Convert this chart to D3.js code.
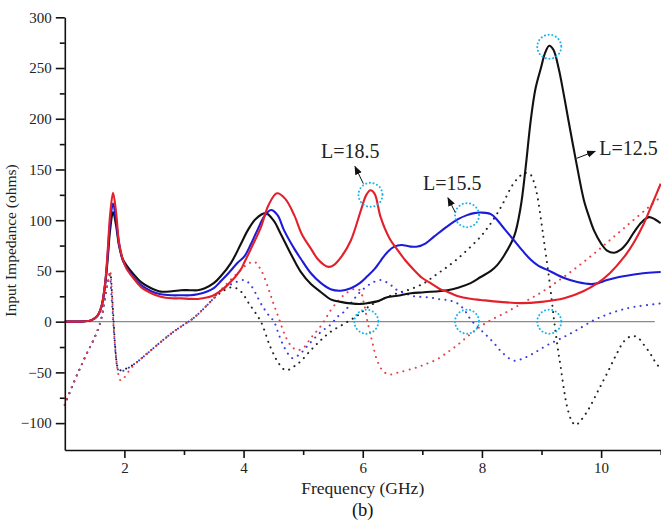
<!DOCTYPE html>
<html>
<head>
<meta charset="utf-8">
<script src="https://cdn.jsdelivr.net/npm/d3@7"></script>
<style>
  body { margin: 0; background: #fff; }
  svg { display: block; }
  .axis text { font-family: "Liberation Serif", "Times New Roman", serif; font-size: 15px; fill: #222; }
  .axis path, .axis line { stroke: #111; stroke-width: 1.6; }
</style>
</head>
<body>
<svg id="chart" width="661" height="522"></svg>
<script>
// Real part (solid) and imaginary part (dotted) of input impedance, [GHz, ohms]
const realL125 = [[1,0],[1.3,0.3],[1.45,1.5],[1.55,6],[1.62,16],[1.68,38],[1.72,62],[1.76,90],[1.81,108],[1.86,95],[1.91,75],[1.97,62],[2.03,56],[2.15,47],[2.28,39],[2.45,33],[2.61,29.6],[2.8,30],[2.95,31],[3.1,31],[3.23,31],[3.35,33],[3.5,38],[3.62,45],[3.79,58],[3.95,76],[4.07,90],[4.2,101],[4.37,107],[4.5,100],[4.62,87],[4.8,66],[4.96,49],[5.13,37],[5.3,29],[5.46,22],[5.63,19.5],[5.8,18],[5.97,17.5],[6.1,18.5],[6.24,20],[6.41,24],[6.58,25.5],[6.81,28],[7.03,29],[7.42,31],[7.6,33.5],[7.81,38],[7.98,44],[8.15,50],[8.26,56],[8.37,65],[8.54,84],[8.65,113],[8.73,150],[8.82,199],[8.9,230],[8.99,250],[9.06,265],[9.13,272],[9.2,268],[9.29,249],[9.37,225],[9.45,199],[9.58,158],[9.71,120],[9.8,103],[9.88,90],[10.0,77],[10.1,70],[10.22,68],[10.33,71],[10.44,78],[10.55,88],[10.68,98],[10.8,103],[10.9,101],[11,97]];
const realL155 = [[1,0],[1.3,0.3],[1.45,1.5],[1.55,6],[1.62,16],[1.68,39],[1.72,66],[1.76,98],[1.81,116.5],[1.86,100],[1.91,77],[1.97,61],[2.03,54],[2.15,44],[2.28,36],[2.45,30],[2.61,27],[2.8,26],[2.95,26],[3.1,26],[3.23,27],[3.4,30],[3.5,33],[3.62,40],[3.75,48],[3.9,58],[4.01,64],[4.12,76],[4.23,90],[4.35,104],[4.46,110],[4.57,105],[4.68,90],[4.85,72],[4.96,62],[5.13,47.7],[5.3,38],[5.46,32],[5.63,30.5],[5.8,33],[5.95,38],[6.08,45],[6.2,52],[6.3,60],[6.42,69],[6.53,74],[6.65,75.5],[6.8,74],[6.92,74],[7.05,77],[7.2,84],[7.42,94],[7.6,101],[7.75,105],[7.87,107],[8.0,107.5],[8.15,106],[8.26,100],[8.37,92],[8.54,80],[8.68,70],[8.82,61],[8.95,55],[9.1,51],[9.25,46.5],[9.38,43],[9.6,39],[9.83,37],[9.95,38],[10.1,41],[10.3,44],[10.5,46],[10.75,48],[11,49]];
const realL185 = [[1,0],[1.3,0.3],[1.45,1.5],[1.55,6],[1.62,16],[1.68,40],[1.72,70],[1.76,105],[1.81,127],[1.86,108],[1.91,78],[1.97,62],[2.03,53],[2.15,43],[2.28,34],[2.45,28],[2.61,24.5],[2.8,23],[2.95,23],[3.1,22.5],[3.23,22.4],[3.4,24],[3.5,26],[3.73,36],[3.95,51],[4.01,58],[4.15,75],[4.29,93],[4.42,115],[4.56,126.5],[4.7,121],[4.85,105],[4.98,86],[5.13,72],[5.24,62],[5.35,56],[5.43,54],[5.52,56],[5.63,63],[5.8,80],[5.97,110],[6.06,125],[6.13,129.5],[6.2,126],[6.3,103],[6.45,82],[6.58,71],[6.72,60],[6.86,51],[7.0,43],[7.14,38],[7.3,32],[7.42,29.5],[7.6,25],[7.81,22.5],[7.98,21.4],[8.3,19.5],[8.65,18.3],[9.0,19.5],[9.38,23],[9.7,30],[9.94,38],[10.15,48],[10.39,64],[10.55,78],[10.72,97],[10.85,115],[11,136]];

const imagL125 = [[1,-82],[1.15,-60],[1.27,-44],[1.38,-30],[1.49,-17],[1.6,0],[1.66,18],[1.72,38],[1.76,48],[1.8,20],[1.84,-20],[1.87,-40],[1.9,-47],[1.95,-48],[2.0,-47],[2.11,-44],[2.25,-38],[2.39,-31],[2.61,-20],[2.8,-11],[2.92,-6],[3.17,4],[3.45,20],[3.6,28],[3.81,34],[3.95,30],[4.1,17],[4.29,0],[4.45,-25],[4.6,-42],[4.71,-48],[4.85,-44],[4.96,-39],[5.13,-28],[5.3,-18],[5.46,-10],[5.69,-2],[5.91,6],[6.08,14],[6.19,18],[6.4,24],[6.58,28],[6.8,32],[7.03,38],[7.2,45],[7.37,52],[7.55,60],[7.76,71],[7.98,84],[8.15,97],[8.32,113],[8.54,137],[8.7,146],[8.8,146],[8.87,138],[8.93,124],[9.0,97],[9.04,80],[9.1,55],[9.15,32],[9.21,2],[9.27,-25],[9.32,-44],[9.38,-68],[9.43,-84],[9.5,-97],[9.57,-102],[9.65,-98],[9.75,-90],[9.83,-82],[9.95,-68],[10.1,-51],[10.25,-33],[10.39,-19],[10.52,-14],[10.62,-16],[10.72,-23],[10.82,-31],[10.89,-38],[11,-47]];
const imagL155 = [[1,-82],[1.15,-60],[1.27,-44],[1.38,-30],[1.49,-17],[1.6,0],[1.66,18],[1.72,38],[1.75,46],[1.79,20],[1.83,-15],[1.86,-36],[1.89,-47],[1.93,-49],[2.0,-48],[2.11,-44],[2.25,-38],[2.39,-31],[2.61,-20],[2.8,-11],[2.92,-6],[3.17,4],[3.45,20],[3.6,30],[3.8,37],[4.01,41],[4.12,36],[4.29,18],[4.4,8],[4.51,0],[4.6,-14],[4.7,-27],[4.82,-36],[4.96,-31],[5.1,-22],[5.3,-10],[5.46,-3],[5.58,5],[5.69,10],[5.85,22],[5.97,30],[6.15,38],[6.3,41],[6.45,37],[6.58,31],[6.75,27],[6.86,25],[7.1,24],[7.3,22],[7.45,21],[7.59,18],[7.7,12],[7.8,3],[7.92,-5],[8.05,-12],[8.2,-21],[8.35,-31],[8.54,-38.5],[8.7,-36],[8.87,-31],[9.1,-23],[9.38,-15],[9.6,-8],[9.88,1.5],[10.1,7],[10.33,11.5],[10.6,15],[10.94,17.5],[11,18]];
const imagL185 = [[1,-82],[1.04,-75],[1.15,-60],[1.27,-44],[1.38,-30],[1.49,-17],[1.6,0],[1.66,18],[1.72,38],[1.76,50],[1.79,30],[1.82,-5],[1.86,-34],[1.9,-52],[1.94,-58],[2.0,-55],[2.11,-46],[2.25,-38],[2.39,-31],[2.61,-20],[2.8,-11],[2.92,-6],[3.17,4],[3.45,20],[3.6,30],[3.73,38],[3.9,48],[4.05,56],[4.18,59],[4.3,50],[4.42,32],[4.5,18],[4.6,2],[4.7,-14],[4.8,-24],[4.9,-28],[5.0,-26],[5.13,-16],[5.3,-4],[5.46,11],[5.58,20],[5.7,27],[5.85,32],[5.95,31],[6.02,18],[6.08,0],[6.16,-20],[6.24,-38],[6.33,-48],[6.44,-52],[6.6,-50],[6.86,-46],[7.05,-42],[7.25,-37],[7.45,-29],[7.59,-23],[7.75,-15],[7.9,-8],[8.1,0],[8.4,9],[8.7,19],[9.0,29],[9.3,41],[9.6,54],[9.9,68],[10.2,83],[10.5,98],[10.8,113],[11,123]];

const xMajorTicks = [2, 4, 6, 8, 10];
const xMinorTicks = [3, 5, 7, 9, 11];
const yMajorTicks = [-100, -50, 0, 50, 100, 150, 200, 250, 300];
const yMinorTicks = [-75, -25, 25, 75, 125, 175, 225, 275];

// markers on resonance points, [GHz, ohms]
const circlePoints = [[9.13, 271], [6.13, 125], [7.75, 105], [6.06, 0], [7.75, 0], [9.13, 0]];
// labels: text, text anchor point, arrow tail, arrow tip
const labels = [
  { text: "L=18.5", at: [5.30, 161], from: [6.01, 136], to: [5.87, 153] },
  { text: "L=15.5", at: [7.01, 130], from: [7.55, 108], to: [7.43, 122] },
  { text: "L=12.5", at: [9.97, 164], from: [9.59, 161], to: [9.90, 168] }
];

const svg = d3.select("#chart");

const x = d3.scaleLinear().domain([1, 11]).range([64.8, 660.7]);
const y = d3.scaleLinear().domain([-126.5, 300]).range([450, 17.3]);

// arrow head
svg.append("defs").append("marker")
  .attr("id", "arrow")
  .attr("viewBox", "0 0 10 10")
  .attr("refX", 9).attr("refY", 5)
  .attr("markerWidth", 9).attr("markerHeight", 9)
  .attr("markerUnits", "userSpaceOnUse")
  .attr("orient", "auto")
  .append("path")
  .attr("d", "M0,1 L10,5 L0,9 Z")
  .attr("fill", "#111");

// zero line
svg.append("line")
  .attr("x1", x(1)).attr("x2", x(10.9))
  .attr("y1", y(0)).attr("y2", y(0))
  .attr("stroke", "#8a8a8a").attr("stroke-width", 1.2);

const line = d3.line()
  .x(d => x(d[0]))
  .y(d => y(d[1]))
  .curve(d3.curveCatmullRom.alpha(0.5));

const dotted = [
  { data: imagL125, color: "#222" },
  { data: imagL155, color: "#3a3ae0" },
  { data: imagL185, color: "#e8404a" }
];
const solid = [
  { data: realL125, color: "#111" },
  { data: realL155, color: "#1c1cd8" },
  { data: realL185, color: "#e3202a" }
];

svg.append("g").selectAll("path")
  .data(dotted)
  .enter()
  .append("path")
  .attr("d", d => line(d.data))
  .attr("fill", "none")
  .attr("stroke", d => d.color)
  .attr("stroke-width", 2)
  .attr("stroke-linecap", "round")
  .attr("stroke-dasharray", "0.1,6.2");

svg.append("g").selectAll("path")
  .data(solid)
  .enter()
  .append("path")
  .attr("d", d => line(d.data))
  .attr("fill", "none")
  .attr("stroke", d => d.color)
  .attr("stroke-width", 2.1);

// cyan dotted circles
svg.append("g").selectAll("circle")
  .data(circlePoints)
  .enter()
  .append("circle")
  .attr("cx", d => x(d[0]))
  .attr("cy", d => y(d[1]))
  .attr("r", 12)
  .attr("fill", "none")
  .attr("stroke", "#1ab4ec")
  .attr("stroke-width", 2)
  .attr("stroke-linecap", "round")
  .attr("stroke-dasharray", "0.1,3.6");

// annotations
const ann = svg.append("g");
ann.selectAll("line")
  .data(labels)
  .enter()
  .append("line")
  .attr("x1", d => x(d.from[0])).attr("y1", d => y(d.from[1]))
  .attr("x2", d => x(d.to[0])).attr("y2", d => y(d.to[1]))
  .attr("stroke", "#111").attr("stroke-width", 1)
  .attr("marker-end", "url(#arrow)");
ann.selectAll("text")
  .data(labels)
  .enter()
  .append("text")
  .attr("x", d => x(d.at[0]))
  .attr("y", d => y(d.at[1]))
  .attr("font-family", "'Liberation Serif', 'Times New Roman', serif")
  .attr("font-size", 20)
  .attr("fill", "#222")
  .text(d => d.text);

// axes
svg.append("g")
  .attr("class", "axis")
  .attr("transform", `translate(0,${y(-126.5)})`)
  .call(d3.axisBottom(x).tickValues(xMajorTicks).tickSize(8).tickSizeOuter(0).tickPadding(4).tickFormat(d3.format("d")));
svg.append("g")
  .attr("class", "axis")
  .attr("transform", `translate(0,${y(-126.5)})`)
  .call(d3.axisBottom(x).tickValues(xMinorTicks).tickSize(5).tickFormat(""))
  .select(".domain").remove();

svg.append("g")
  .attr("class", "axis")
  .attr("transform", `translate(${x(1)},0)`)
  .call(d3.axisLeft(y).tickValues(yMajorTicks).tickSize(9).tickSizeOuter(0).tickPadding(4).tickFormat(d3.format("d")));
svg.append("g")
  .attr("class", "axis")
  .attr("transform", `translate(${x(1)},0)`)
  .call(d3.axisLeft(y).tickValues(yMinorTicks).tickSize(5).tickFormat(""))
  .select(".domain").remove();

// titles
svg.append("text")
  .attr("transform", `translate(16,${y(80)}) rotate(-90)`)
  .attr("text-anchor", "middle")
  .attr("font-family", "'Liberation Serif', 'Times New Roman', serif")
  .attr("font-size", 15.5)
  .attr("fill", "#222")
  .text("Input Impedance (ohms)");

svg.append("text")
  .attr("x", x(6)).attr("y", 494)
  .attr("text-anchor", "middle")
  .attr("font-family", "'Liberation Serif', 'Times New Roman', serif")
  .attr("font-size", 17.5)
  .attr("fill", "#222")
  .text("Frequency (GHz)");

svg.append("text")
  .attr("x", x(6)).attr("y", 516)
  .attr("text-anchor", "middle")
  .attr("font-family", "'Liberation Serif', 'Times New Roman', serif")
  .attr("font-size", 18.5)
  .attr("fill", "#111")
  .text("(b)");
</script>
</body>
</html>
